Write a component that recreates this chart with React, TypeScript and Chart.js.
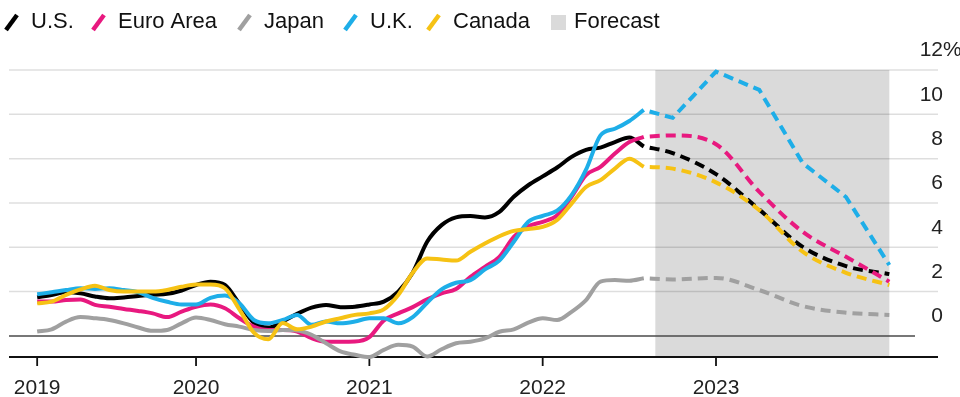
import React, { useEffect, useRef } from 'react';
import { Chart, registerables } from 'chart.js';

Chart.register(...registerables);

// x values are month indices (0 = Jan 2019); actual series start at month 1
const actualStartMonth = 1;

const usActual = [
  1.75, 1.85, 1.97, 1.92, 1.78, 1.7, 1.74, 1.8, 1.86, 1.9, 2.05, 2.3,
  2.45, 2.3, 1.45, 0.6, 0.38, 0.65, 1.0, 1.28, 1.4, 1.3, 1.32, 1.42,
  1.55, 2.0, 2.85, 4.25, 5.0, 5.35, 5.41, 5.35, 5.6, 6.28, 6.8, 7.2,
  7.6, 8.08, 8.4, 8.5, 8.75, 8.95, 8.55,
];
const euroActual = [
  1.55, 1.55, 1.62, 1.65, 1.4, 1.32, 1.22, 1.13, 1.02, 0.85, 1.1, 1.32,
  1.42, 1.25, 0.8, 0.42, 0.27, 0.27, 0.2, -0.1, -0.26, -0.26, -0.25, -0.05,
  0.7, 1.02, 1.3, 1.65, 1.92, 2.12, 2.67, 3.12, 3.57, 4.47, 4.95, 5.15,
  5.45, 6.28, 7.26, 7.63, 8.23, 8.75, 8.98,
];
const japanActual = [
  0.2, 0.3, 0.65, 0.85, 0.8, 0.72, 0.57, 0.38, 0.23, 0.27, 0.57, 0.83,
  0.72, 0.53, 0.42, 0.27, 0.22, 0.27, 0.25, 0.05, -0.33, -0.7, -0.85, -0.95,
  -0.63, -0.4, -0.48, -0.93, -0.6, -0.33, -0.26, -0.11, 0.19, 0.3, 0.6, 0.8,
  0.72, 1.09, 1.62, 2.45, 2.52, 2.49, 2.6,
];
const ukActual = [
  1.88, 1.97, 2.07, 2.15, 2.12, 2.15, 2.07, 1.97, 1.72, 1.54, 1.42, 1.42,
  1.72, 1.82, 1.47, 0.72, 0.57, 0.72, 0.95, 0.5, 0.65, 0.57, 0.65, 0.8,
  0.8, 0.57, 0.85, 1.5, 2.1, 2.4, 2.52, 3.0, 3.4, 4.25, 5.15, 5.42,
  5.65, 6.35, 7.5, 9.05, 9.35, 9.7, 10.2,
];
const canadaActual = [
  1.47, 1.55, 1.85, 2.1, 2.27, 2.07, 2.0, 2.0, 2.0, 2.07, 2.22, 2.32,
  2.32, 2.15, 1.2, 0.15, -0.15, 0.58, 0.3, 0.42, 0.65, 0.8, 0.95, 1.02,
  1.2, 1.85, 2.85, 3.5, 3.45, 3.4, 3.8, 4.17, 4.5, 4.74, 4.83, 4.92,
  5.23, 5.97, 6.72, 7.03, 7.55, 8.0, 7.63,
];

const forecastMonths = [43, 45, 48, 51, 54, 57, 60];
const usForecast = [8.55, 8.25, 7.3, 5.7, 4.02, 3.15, 2.79];
const euroForecast = [8.98, 9.05, 8.65, 6.5, 4.7, 3.57, 2.45];
const japanForecast = [2.6, 2.55, 2.62, 2.07, 1.35, 1.05, 0.95];
const ukForecast = [10.2, 9.84, 11.93, 11.1, 7.8, 6.27, 3.2];
const canadaForecast = [7.63, 7.55, 6.93, 5.68, 3.8, 2.85, 2.3];

const forecastBand = [43.8, 60];
const xTickMonths = [1, 12, 24, 36, 48];
const xTickLabels = ['2019', '2020', '2021', '2022', '2023'];
const yTickValues = [0, 2, 4, 6, 8, 10, 12];

const seriesNames = ['U.S.', 'Euro Area', 'Japan', 'U.K.', 'Canada'];
const seriesColors = ['#000000', '#e8197f', '#a0a0a0', '#1eaee8', '#f6c214'];
const forecastLabel = 'Forecast';

// legend layout (pixel x of each marker)
const LEGEND_X = [4, 91, 237, 343, 426, 551];

const FONT = '"Liberation Sans", Arial, Helvetica, sans-serif';
const BAND_COLOR = '#dadada';

const actualSeries = [usActual, euroActual, japanActual, ukActual, canadaActual];
const forecastSeries = [usForecast, euroForecast, japanForecast, ukForecast, canadaForecast];

const decorPlugin = {
  id: 'decor',
  beforeDatasetsDraw(chart: any) {
    const { ctx, chartArea: a, scales } = chart;
    const x = scales.x;
    const y = scales.y;
    ctx.save();
    const bx0 = x.getPixelForValue(forecastBand[0]);
    const bx1 = x.getPixelForValue(forecastBand[1]);
    ctx.fillStyle = BAND_COLOR;
    ctx.fillRect(bx0, a.top, bx1 - bx0, a.bottom - a.top);

    ctx.lineWidth = 1.5;
    ctx.strokeStyle = 'rgba(0,0,0,0.13)';
    for (const v of yTickValues) {
      if (v === 0) continue;
      const py = y.getPixelForValue(v);
      ctx.beginPath();
      ctx.moveTo(a.left, py);
      ctx.lineTo(a.right, py);
      ctx.stroke();
    }
    const zy = y.getPixelForValue(0);
    ctx.strokeStyle = '#4a4a4a';
    ctx.lineWidth = 1.5;
    ctx.beginPath();
    ctx.moveTo(a.left, zy);
    ctx.lineTo(a.right - 23, zy);
    ctx.stroke();

    ctx.strokeStyle = '#111';
    ctx.lineWidth = 1.8;
    ctx.beginPath();
    ctx.moveTo(a.left, a.bottom);
    ctx.lineTo(a.right, a.bottom);
    ctx.stroke();

    ctx.fillStyle = '#222';
    ctx.font = `21px ${FONT}`;
    ctx.textAlign = 'center';
    ctx.textBaseline = 'middle';
    xTickMonths.forEach((m, i) => {
      const px = x.getPixelForValue(m);
      ctx.beginPath();
      ctx.moveTo(px, a.bottom);
      ctx.lineTo(px, a.bottom + 9);
      ctx.stroke();
      ctx.fillText(xTickLabels[i], px, a.bottom + 31);
    });

    const labelRight = a.right + 5;
    yTickValues.forEach((v) => {
      const py = y.getPixelForValue(v) - 19.5;
      ctx.textAlign = 'right';
      ctx.fillText(String(v), labelRight, py);
      if (v === yTickValues[yTickValues.length - 1]) {
        ctx.textAlign = 'left';
        ctx.fillText('%', labelRight, py);
      }
    });
    ctx.restore();
  },
  afterDraw(chart: any) {
    const { ctx } = chart;
    ctx.save();
    ctx.font = `22px ${FONT}`;
    ctx.textBaseline = 'middle';
    ctx.textAlign = 'left';
    const cy = 22;
    seriesNames.forEach((name, i) => {
      const cx = LEGEND_X[i];
      ctx.strokeStyle = seriesColors[i];
      ctx.lineWidth = 4.5;
      ctx.lineCap = 'butt';
      ctx.beginPath();
      ctx.moveTo(cx + 2, cy + 8);
      ctx.lineTo(cx + 13, cy - 7);
      ctx.stroke();
      ctx.fillStyle = '#111';
      ctx.fillText(name, cx + 27, cy);
    });
    const fx = LEGEND_X[5];
    ctx.fillStyle = BAND_COLOR;
    ctx.fillRect(fx, cy - 7, 15, 15);
    ctx.fillStyle = '#111';
    ctx.fillText(forecastLabel, fx + 23, cy);
    ctx.restore();
  },
};

export default function App() {
  const canvasRef = useRef<HTMLCanvasElement | null>(null);

  useEffect(() => {
    const canvas = canvasRef.current;
    if (!canvas) return;
    const datasets: any[] = [];
    actualSeries.forEach((vals, i) => {
      datasets.push({
        label: seriesNames[i],
        data: vals.map((v, j) => ({ x: actualStartMonth + j, y: v })),
        borderColor: seriesColors[i],
        borderWidth: 4,
        pointRadius: 0,
        cubicInterpolationMode: 'monotone',
        clip: false,
        order: 10 - i,
      });
    });
    forecastSeries.forEach((vals, i) => {
      datasets.push({
        label: seriesNames[i] + ' forecast',
        data: vals.map((v, j) => ({ x: forecastMonths[j], y: v })),
        borderColor: seriesColors[i],
        borderWidth: 4,
        borderDash: [10, 6],
        borderDashOffset: 10,
        pointRadius: 0,
        cubicInterpolationMode: i === 3 ? 'default' : 'monotone',
        tension: 0,
        clip: false,
        order: 10 - i,
      });
    });

    const chart = new Chart(canvas, {
      type: 'line',
      data: { datasets },
      options: {
        responsive: false,
        animation: false,
        devicePixelRatio: 1,
        layout: { padding: { left: 9, right: 22, top: 70, bottom: 40 } },
        plugins: { legend: { display: false }, tooltip: { enabled: false } },
        scales: {
          x: { type: 'linear', min: -0.95, max: 63.37, display: false },
          y: { type: 'linear', min: -0.95, max: 12, display: false },
        },
      },
      plugins: [decorPlugin],
    });
    return () => chart.destroy();
  }, []);

  return (
    <div style={{ position: 'absolute', left: 0, top: 0, width: 960, height: 397, background: '#fff' }}>
      <canvas ref={canvasRef} width={960} height={397} style={{ display: 'block' }} />
    </div>
  );
}
